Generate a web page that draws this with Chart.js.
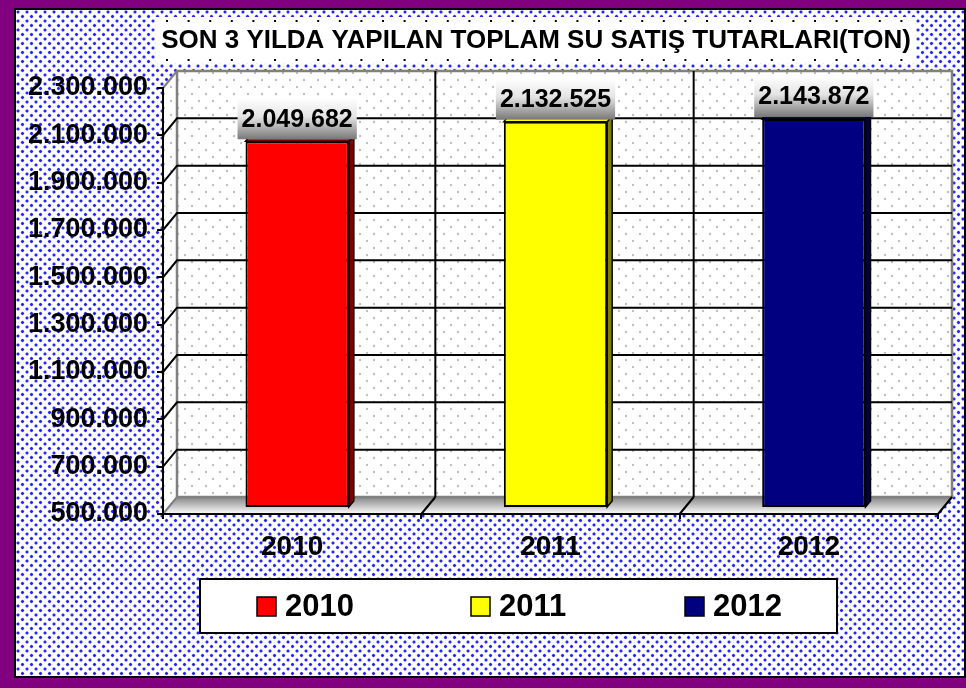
<!DOCTYPE html>
<html>
<head>
<meta charset="utf-8">
<script src="https://cdn.jsdelivr.net/npm/chart.js@4.4.1/dist/chart.umd.min.js"></script>
<style>
  html, body { margin: 0; padding: 0; }
  body { width: 966px; height: 688px; background: #800080; position: relative; overflow: hidden; }
  #panel {
    position: absolute; left: 14px; top: 8px; width: 952px; height: 670px;
    box-sizing: border-box; border: 2px solid #000;
    background-color: #fff;
    background-image:
      radial-gradient(circle at 2px 2px, #2424ff 1px, rgba(70,70,255,.45) 1.6px, transparent 2.2px),
      radial-gradient(circle at 6.5px 6.5px, #2424ff 1px, rgba(70,70,255,.45) 1.6px, transparent 2.2px);
    background-size: 9px 9px;
  }
  #grafik { position: absolute; left: 0; top: 0; }
</style>
</head>
<body>
<div id="panel"></div>
<canvas id="grafik" width="966" height="688"></canvas>
<script>
const yillar = ['2010', '2011', '2012'];
const satislar = [2049682, 2132525, 2143872];
const renkler = ['#ff0000', '#ffff00', '#000080'];
const yanRenkler = ['#800000', '#808000', '#000040'];
const eksenMin = 500000;
const eksenMax = 2300000;
const eksenAdim = 200000;
const baslik = 'SON 3 YILDA YAPILAN TOPLAM SU SATIŞ TUTARLARI(TON)';

const FONT = '"Liberation Sans", Arial, sans-serif';
// derinlik (3D) kaydirmalari
const DX = 14, DY = 17;
const BX = 5, BY = -6;
const BD = 5, BDY = 6;

function noktali(v) {
  return String(v).replace(/\B(?=(\d{3})+(?!\d))/g, '.');
}

function noktaDeseni(ctx) {
  const c = document.createElement('canvas');
  c.width = 14; c.height = 14;
  const g = c.getContext('2d');
  g.fillStyle = '#fff';
  g.fillRect(0, 0, 14, 14);
  g.fillStyle = '#c0c0c0';
  [[3, 3], [10, 10]].forEach(([x, y]) => {
    g.beginPath();
    g.arc(x, y, 1.2, 0, Math.PI * 2);
    g.fill();
  });
  return ctx.createPattern(c, 'repeat');
}

function cizgi(ctx, x1, y1, x2, y2) {
  ctx.beginPath();
  ctx.moveTo(x1, y1);
  ctx.lineTo(x2, y2);
  ctx.stroke();
}

function dortgen(ctx, pts) {
  ctx.beginPath();
  ctx.moveTo(pts[0][0], pts[0][1]);
  for (let i = 1; i < pts.length; i++) ctx.lineTo(pts[i][0], pts[i][1]);
  ctx.closePath();
}

// baslik + duvarlar + zemin
const duvarlar = {
  id: 'duvarlar',
  beforeDraw(chart) {
    const {ctx, chartArea: a, scales: {y}} = chart;
    ctx.save();

    // baslik kutusu
    ctx.fillStyle = '#fff';
    ctx.fillRect(156, 17, 760, 46);
    ctx.fillStyle = '#000';
    for (let px = 166; px < 912; px += 21.6) {
      ctx.fillRect(px, 20, 2, 2);
      ctx.fillRect(px, 59, 2, 2);
    }
    ctx.font = 'bold 26px ' + FONT;
    ctx.textAlign = 'center';
    ctx.textBaseline = 'middle';
    ctx.fillText(baslik, 536, 41);

    // arka ve yan duvar
    ctx.fillStyle = noktaDeseni(ctx);
    ctx.fillRect(a.left + DX, a.top - DY, a.width, a.height);
    dortgen(ctx, [[a.left, a.top], [a.left + DX, a.top - DY], [a.left + DX, a.bottom - DY], [a.left, a.bottom]]);
    ctx.fill();

    // zemin
    const gr = ctx.createLinearGradient(0, a.bottom - DY, 0, a.bottom);
    gr.addColorStop(0, '#858585');
    gr.addColorStop(1, '#ffffff');
    ctx.fillStyle = gr;
    dortgen(ctx, [[a.left, a.bottom], [a.left + DX, a.bottom - DY], [a.right + DX, a.bottom - DY], [a.right, a.bottom]]);
    ctx.fill();

    // gri kenarlar
    ctx.strokeStyle = '#808080';
    ctx.lineWidth = 2.5;
    ctx.strokeRect(a.left + DX, a.top - DY, a.width, a.height);

    // yatay izgara
    ctx.lineWidth = 2;
    y.ticks.forEach(t => {
      const py = y.getPixelForValue(t.value);
      const ic = t.value > eksenMin && t.value < eksenMax;
      ctx.strokeStyle = ic ? '#000' : '#808080';
      ctx.beginPath();
      ctx.moveTo(a.left, py);
      ctx.lineTo(a.left + DX, py - DY);
      if (ic) ctx.lineTo(a.right + DX, py - DY);
      ctx.stroke();
    });

    // dikey izgara ve zemin capraz cizgileri
    ctx.strokeStyle = '#000';
    const n = yillar.length;
    const cw = a.width / n;
    for (let k = 1; k <= n; k++) {
      const bx = a.left + k * cw;
      if (k < n) cizgi(ctx, bx + DX, a.top - DY, bx + DX, a.bottom - DY);
      cizgi(ctx, bx, a.bottom, bx + DX, a.bottom - DY);
    }
    ctx.restore();
  }
};

// cubuklar: derinlik, yan yuz ve etiketler
const cubuklar = {
  id: 'cubuklar',
  beforeDatasetsDraw(chart) {
    chart.ctx.save();
    chart.ctx.translate(BX, BY);
  },
  afterDatasetsDraw(chart) {
    const ctx = chart.ctx;
    const meta = chart.getDatasetMeta(0);
    ctx.strokeStyle = '#000';
    ctx.lineWidth = 1.5;
    meta.data.forEach((bar, i) => {
      const {x, y, base, width} = bar.getProps(['x', 'y', 'base', 'width'], true);
      const l = x - width / 2, r = x + width / 2;
      const alt = Math.min(base, chart.chartArea.bottom);
      ctx.fillStyle = yanRenkler[i];
      dortgen(ctx, [[r, y], [r + BD, y - BDY], [r + BD, alt - BDY], [r, alt]]);
      ctx.fill(); ctx.stroke();
      ctx.fillStyle = renkler[i];
      dortgen(ctx, [[l, y], [l + BD, y - BDY], [r + BD, y - BDY], [r, y]]);
      ctx.fill(); ctx.stroke();
    });

    ctx.font = 'bold 25px ' + FONT;
    ctx.textAlign = 'center';
    ctx.textBaseline = 'middle';
    meta.data.forEach((bar, i) => {
      const txt = noktali(satislar[i]);
      const w = ctx.measureText(txt).width + 8, h = 41;
      const bx = bar.x - w / 2, by = bar.y - 2 - h;
      const g = ctx.createLinearGradient(0, by, 0, by + h);
      g.addColorStop(0, '#ffffff');
      g.addColorStop(0.45, '#e4e4e4');
      g.addColorStop(1, '#787878');
      ctx.fillStyle = g;
      ctx.fillRect(bx, by, w, h);
      ctx.fillStyle = '#000';
      ctx.fillText(txt, bar.x, by + h / 2 + 1);
    });
    ctx.restore();
  }
};

// alt gosterge kutusu
const gosterge = {
  id: 'gosterge',
  afterDraw(chart) {
    const ctx = chart.ctx;
    ctx.save();
    ctx.fillStyle = '#fff';
    ctx.fillRect(200, 579, 637, 54);
    ctx.strokeStyle = '#000';
    ctx.lineWidth = 2;
    ctx.strokeRect(200, 579, 637, 54);
    ctx.font = 'bold 31px ' + FONT;
    ctx.textAlign = 'left';
    ctx.textBaseline = 'middle';
    ctx.lineWidth = 1.5;
    yillar.forEach((yil, i) => {
      const x = 257 + i * 214;
      ctx.fillStyle = renkler[i];
      ctx.fillRect(x, 597, 19, 19);
      ctx.strokeRect(x, 597, 19, 19);
      ctx.fillStyle = '#000';
      ctx.fillText(yil, x + 28, 607);
    });
    ctx.restore();
  }
};

new Chart(document.getElementById('grafik'), {
  type: 'bar',
  data: {
    labels: yillar,
    datasets: [{
      data: satislar,
      base: eksenMin,
      backgroundColor: renkler,
      borderColor: '#000',
      borderWidth: 2,
      borderSkipped: false,
      barPercentage: 0.4,
      categoryPercentage: 1
    }]
  },
  options: {
    responsive: false,
    animation: false,
    layout: { padding: { left: 0, right: 28, top: 88, bottom: 124 } },
    plugins: {
      legend: { display: false },
      title: { display: false },
      tooltip: { enabled: false }
    },
    scales: {
      x: {
        grid: { offset: true, drawOnChartArea: false, tickLength: 5, color: '#000', lineWidth: 2 },
        border: { display: true, color: '#000', width: 2 },
        ticks: { color: '#000', font: { family: FONT, size: 28, weight: 'bold' }, padding: 11 },
        afterFit(s) { s.height = 50; }
      },
      y: {
        min: eksenMin,
        max: eksenMax,
        grid: { drawOnChartArea: false, tickLength: 6, color: '#000', lineWidth: 2 },
        border: { display: true, color: '#000', width: 2 },
        ticks: {
          stepSize: eksenAdim,
          color: '#000',
          font: { family: FONT, size: 27, weight: 'bold' },
          padding: 9,
          callback: v => noktali(v)
        },
        afterFit(s) { s.width = 163; }
      }
    }
  },
  plugins: [duvarlar, cubuklar, gosterge]
});
</script>
</body>
</html>
